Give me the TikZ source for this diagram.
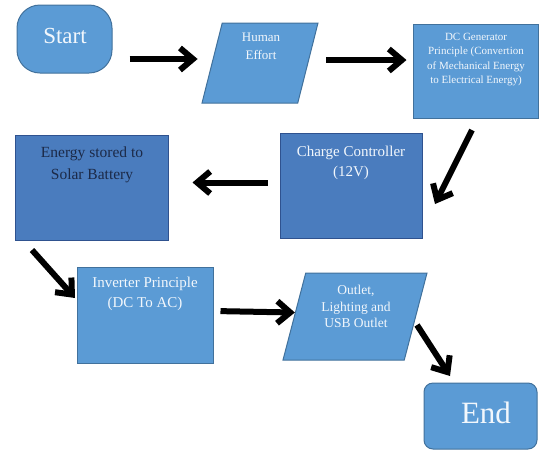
\documentclass[tikz,border=0pt]{standalone}
\usepackage{fontspec}
\setmainfont{Liberation Serif}
\usetikzlibrary{shapes.geometric,arrows.meta}
\definecolor{lb}{HTML}{5B9BD5}
\definecolor{lbd}{HTML}{41719C}
\definecolor{db}{HTML}{4A7CBE}
\definecolor{dbd}{HTML}{2F528F}
\definecolor{txtw}{HTML}{F2F7FC}
\definecolor{txtd}{HTML}{1C2A48}
\begin{document}
\begin{tikzpicture}[x=1pt,y=-1pt,
  lightbox/.style={draw=lbd, fill=lb, line width=1pt, inner sep=0pt},
  darkbox/.style={draw=dbd, fill=db, line width=1pt, inner sep=0pt},
  parabox/.style={lightbox, trapezium, trapezium stretches=true, inner sep=2pt},
  lbl/.style={inner sep=0pt, align=center, text=txtw, anchor=north},
  arr/.style={line width=6pt, -{Straight Barb[length=13pt,width=22pt]}}]
\useasboundingbox (0,0) rectangle (539,451);
% shapes
\node[lightbox, rounded corners=23pt, minimum width=95pt, minimum height=68pt] (start) at (64.5,39) {};
\node[parabox, trapezium left angle=75, trapezium right angle=105, minimum width=116pt, minimum height=80pt] (human) at (260,63) {};
\node[lightbox, minimum width=125pt, minimum height=94pt] (dc) at (475.5,71) {};
\node[darkbox, minimum width=142pt, minimum height=105pt] (cc) at (351,185.5) {};
\node[darkbox, minimum width=153pt, minimum height=105pt] (en) at (91.5,187.5) {};
\node[lightbox, minimum width=136pt, minimum height=96pt] (inv) at (145,315) {};
\node[parabox, trapezium left angle=77, trapezium right angle=103, minimum width=144pt, minimum height=87pt] (outlet) at (355,316.5) {};
\node[lightbox, rounded corners=9pt, minimum width=113pt, minimum height=66pt] (end) at (480.5,416) {};
% texts
\node[lbl, font=\fontsize{23}{27}\selectfont] (startt) at (65,28) {Start};
\node[lbl, font=\fontsize{13}{18}\selectfont] (humant) at (261,33) {Human\\Effort};
\node[lbl, font=\fontsize{11}{14.5}\selectfont] (dct) at (476,33) {DC Generator\\Principle (Convertion\\of Mechanical Energy\\to Electrical Energy)};
\node[lbl, font=\fontsize{15}{20}\selectfont] (cct) at (351,146) {Charge Controller\\(12V)};
\node[lbl, text=txtd, font=\fontsize{15.5}{22}\selectfont] (ent) at (92,147) {Energy stored to\\Solar Battery};
\node[lbl, font=\fontsize{15}{20}\selectfont] (invt) at (145,277) {Inverter Principle\\(DC To AC)};
\node[lbl, font=\fontsize{13.5}{16.5}\selectfont] (outt) at (356,285) {Outlet,\\Lighting and\\USB Outlet};
\node[lbl, font=\fontsize{31}{36}\selectfont] (endt) at (486,402) {End};
% free ends
\coordinate (a3s) at (472,130);
\coordinate (a3e) at (435,204);
\coordinate (a5s) at (32,250);
\coordinate (a5e) at (75,298);
\coordinate (a7s) at (417,325);
\coordinate (a7e) at (450,376);
% connectors
\draw[arr, shorten <=17pt, shorten >=14pt] ([yshift=4pt]start.east |- human.west) -- ([yshift=4pt]human.west);
\draw[arr, shorten <=18pt, shorten >=6pt] ([yshift=3pt]human.east) -- ([yshift=3pt]dc.west |- human.east);
\draw[arr] (a3s) -- (a3e);
\draw[arr, shorten <=12pt, shorten >=24pt] ([yshift=3pt]cc.west) -- ([yshift=3pt]cc.west -| en.east);
\draw[arr] (a5s) -- (a5e);
\draw[arr, shorten <=7pt, shorten >=-1pt] ([yshift=4pt]inv.east) -- ([yshift=4pt]outlet.west);
\draw[arr] (a7s) -- (a7e);
\end{tikzpicture}
\end{document}
